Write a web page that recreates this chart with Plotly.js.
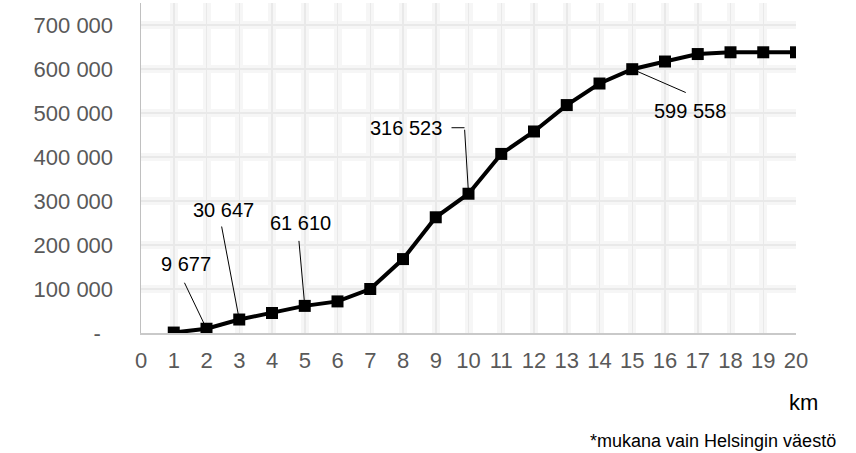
<!DOCTYPE html>
<html><head><meta charset="utf-8">
<script src="https://cdn.plot.ly/plotly-3.0.1.min.js"></script>
<style>html,body{margin:0;padding:0;background:#fff}#chart{width:856px;height:453px}</style>
</head><body><div id="chart"></div>
<script>
// ---- data ----
const km = [1,2,3,4,5,6,7,8,9,10,11,12,13,14,15,16,17,18,19,20];
const population = [1000,9677,30647,45400,61610,71800,100000,168000,263000,316523,407000,458000,518000,567000,599558,617000,634000,638000,638000,638000];
const xTickVals = [0,1,2,3,4,5,6,7,8,9,10,11,12,13,14,15,16,17,18,19,20];
const xTickText = ["0","1","2","3","4","5","6","7","8","9","10","11","12","13","14","15","16","17","18","19","20"];
const yTickVals = [0,100000,200000,300000,400000,500000,600000,700000];
const yTickText = ["-\u00a0\u00a0","100 000","200 000","300 000","400 000","500 000","600 000","700 000"];
const labelledKm = [2,3,5,10,15];
const xTitle = "km";
const footnote = "*mukana vain Helsingin väestö";

// ---- style (pixel offsets of labels / leader lines) ----
const labelStyle = {
  2:  {tx:-21, ty:-65, ax:-23, ay:-48},
  3:  {tx:-16, ty:-110, ax:-18, ay:-95},
  5:  {tx:-4, ty:-83, ax:-6, ay:-67},
  10: {tx:-63, ty:-66, ax:-4, ay:-66, dash:[-17,-4]},
  15: {tx:58, ty:42, ax:55, ay:24}
};
const FONT = '"Liberation Sans", Arial, sans-serif';
const fmt = v => String(v).replace(/\B(?=(\d{3})+(?!\d))/g, ' ');

const annotations = [];
const shapes = [];
labelledKm.forEach(k => {
  const v = population[km.indexOf(k)];
  const s = labelStyle[k];
  annotations.push({x:k, y:v, xref:'x', yref:'y', text:fmt(v), showarrow:false,
    xshift:s.tx, yshift:-s.ty, xanchor:'center', yanchor:'middle',
    font:{family:FONT, size:20, color:'#000'}});
  annotations.push({x:k, y:v, xref:'x', yref:'y', showarrow:true, ax:s.ax, ay:s.ay,
    arrowhead:0, arrowwidth:1, arrowcolor:'#000', standoff:0, font:{size:1}});
  if (s.dash) {
    shapes.push({type:'line', xref:'x', yref:'y', xsizemode:'pixel', ysizemode:'pixel',
      xanchor:k, yanchor:v, x0:s.dash[0], x1:s.dash[1], y0:-s.ay, y1:-s.ay,
      line:{color:'#000', width:1}});
  }
});
annotations.push({xref:'paper', yref:'paper', x:1, y:0, xshift:7, yshift:-69, xanchor:'center', yanchor:'middle',
  text:xTitle, showarrow:false, font:{family:FONT, size:22, color:'#000'}});
annotations.push({xref:'paper', yref:'paper', x:1, y:0, xshift:42, yshift:-108, xanchor:'right', yanchor:'middle',
  text:footnote, showarrow:false, font:{family:FONT, size:18, color:'#000'}});

const traces = [
  {x:km, y:population, xaxis:'x2', yaxis:'y2', type:'scatter', mode:'lines', hoverinfo:'skip',
   line:{color:'rgba(0,0,0,0)', width:0}, showlegend:false},
  {x:km, y:population, type:'scatter', mode:'lines+markers',
   line:{color:'#000', width:4}, marker:{symbol:'square', size:12, color:'#000'}, showlegend:false}
];

const layout = {
  width:856, height:453,
  margin:{l:141, r:60, t:3, b:120},
  paper_bgcolor:'#fff', plot_bgcolor:'#fff',
  font:{family:FONT, size:22, color:'#595959'},
  showlegend:false,
  xaxis:{range:[0,20], tickvals:xTickVals, ticktext:xTickText, ticks:'', ticklabelstandoff:7,
    showgrid:true, gridcolor:'#f6f6f6', gridwidth:8, zeroline:false,
    showline:true, linecolor:'#c9c9c9', linewidth:1.5,
    tickfont:{family:FONT, size:22, color:'#595959'}},
  yaxis:{range:[0,750000], tickvals:yTickVals, ticktext:yTickText, ticks:'', ticklabelstandoff:22,
    showgrid:true, gridcolor:'#f6f6f6', gridwidth:8, zeroline:false,
    showline:true, linecolor:'#c0c0c0', linewidth:1.5,
    tickfont:{family:FONT, size:22, color:'#595959'}},
  xaxis2:{overlaying:'x', anchor:'y2', range:[0,20], tickvals:xTickVals, showticklabels:false, ticks:'',
    showgrid:true, gridcolor:'#e9e9e9', gridwidth:1.5, zeroline:false, showline:false},
  yaxis2:{overlaying:'y', anchor:'x2', range:[0,750000], tickvals:yTickVals.slice(1), showticklabels:false, ticks:'',
    showgrid:true, gridcolor:'#e9e9e9', gridwidth:1.5, zeroline:false, showline:false},
  annotations:annotations,
  shapes:shapes
};
Plotly.newPlot('chart', traces, layout, {displayModeBar:false, staticPlot:true});
</script></body></html>
